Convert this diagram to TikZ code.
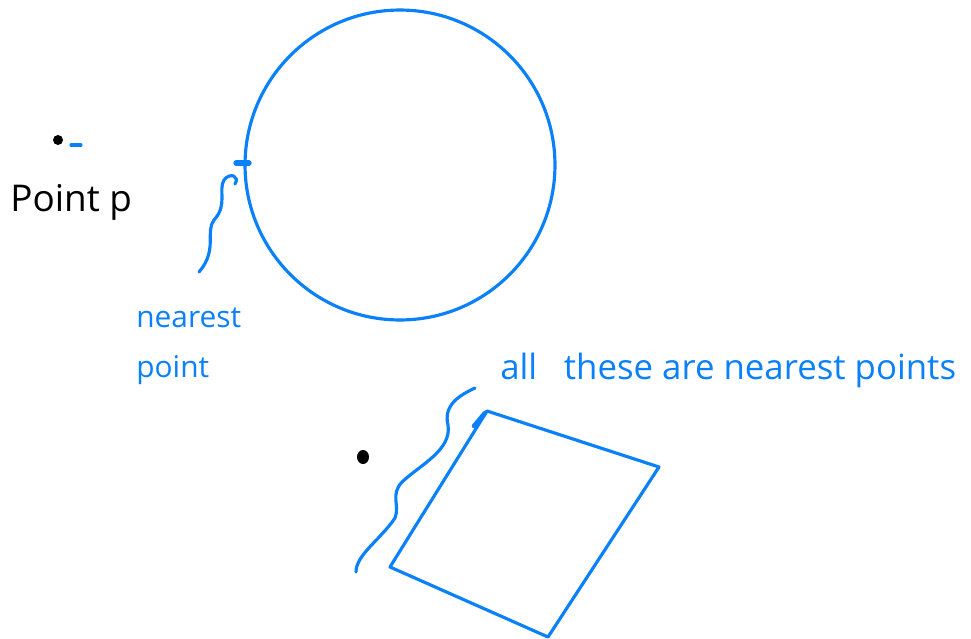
\documentclass[tikz,border=0pt]{standalone}
\usepackage{fontspec}
\setmainfont{Open Sans}
\usetikzlibrary{positioning}
\definecolor{pen}{RGB}{10,128,250}

\begin{document}
\begin{tikzpicture}[x=0.02cm,y=-0.02cm,
    ink/.style={pen,line width=1.8pt,line cap=round,line join=round},
    note/.style={pen,font=\fontsize{17}{19}\selectfont,inner sep=0pt}]
  \useasboundingbox (0,0) rectangle (971,639);
  % the ball and the point p
  \node[draw=pen,line width=1.8pt,circle,minimum size=6.2cm,inner sep=0pt] (ball) at (400,165) {};
  \fill (58,140) circle (5) coordinate (p);
  \draw[ink] (71,145) -- (81,145);
  \node[font=\fontsize{21}{23}\selectfont,inner sep=0pt,anchor=west] (plabel) at (10,202) {Point p};
  \draw[ink,line width=3pt] (236,163) -- (249,163) coordinate (near);
  \node[note,anchor=west] (near1) at (136,318) {nearest};
  \node[note,anchor=west] (near2) at (136,370) {point};
  \coordinate (w1) at (199,272);
  \draw[ink] (w1) .. controls (218,250) and (205,232) .. (214,220)
     .. controls (228,205) and (218,190) .. (224,180)
     .. controls (230,172) and (240,176) .. (235,184);
  % the square and its nearest points
  \fill (363,457) ellipse (6 and 7) coordinate (q);
  \draw[ink] (487,411) coordinate (s1) -- (659,467) coordinate (s2)
     -- (548,637) coordinate (s3) -- (390,567) coordinate (s4) -- cycle;
  \draw[ink,line width=2.6pt] (474,426) -- (485,413);
  \node[note,font=\fontsize{19.8}{22}\selectfont,anchor=west] (all) at (500,370) {all\hspace{10pt} these are nearest points};
  \coordinate (w2) at (356,572);
  \draw[ink] (w2) .. controls (356,555) and (380,540) .. (395,518)
     .. controls (400,505) and (390,495) .. (402,482)
     .. controls (420,465) and (452,450) .. (448,425)
     .. controls (443,405) and (460,395) .. (475,388);
\end{tikzpicture}
\end{document}
